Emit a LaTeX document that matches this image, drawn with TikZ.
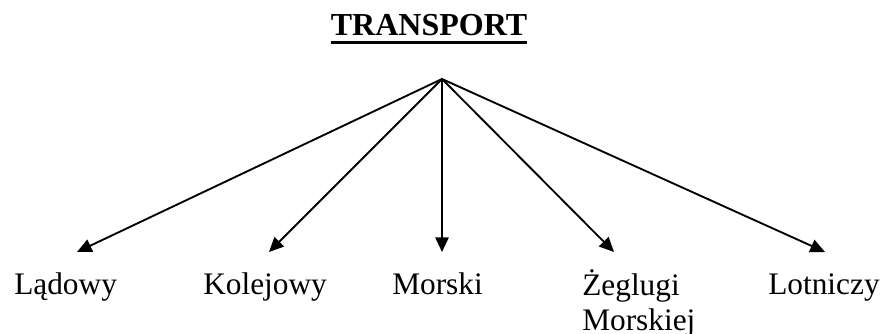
\documentclass[tikz,border=0pt]{standalone}
\usepackage{fontspec}
\setmainfont{Liberation Serif}
\usepackage{tikz}
\usetikzlibrary{arrows.meta}
\tikzstyle{label} = [inner sep=0pt, anchor=base west,
font=\fontsize{23.5pt}{26.25pt}\selectfont, align=left]
\tikzstyle{title} = [inner sep=0pt, anchor=base,
font=\fontsize{24pt}{26.25pt}\selectfont\bfseries]
\tikzstyle{arrow} =
[line width=1.4pt,-{Triangle[length=11pt,width=10pt]}]

\begin{document}
\begin{tikzpicture}[x=0.75pt, y=-0.75pt]
\useasboundingbox (0,0) rectangle (884,334);

\node(title)[title] at (429,36){TRANSPORT};
\draw[line width=2pt]([yshift=-5pt]title.base west) -- ([yshift=-5pt]title.base east);

\coordinate(apex) at (442,79);
\node(ladowy)[label] at (14,295){Lądowy};
\node(kolejowy)[label] at (203,295){Kolejowy};
\node(morski)[label] at (392,295){Morski};
% base of a two-line node is its last line
\node(zegluga)[label] at (582,330){Żeglugi\\Morskiej};
\node(lotniczy)[label] at (768,295){Lotniczy};

\coordinate(tipL) at (77,252);
\coordinate(tipK) at (269,252);
\coordinate(tipM) at (442,252);
\coordinate(tipZ) at (614,252);
\coordinate(tipT) at (825,252);

\draw[arrow](apex) -- (tipL);
\draw[arrow](apex) -- (tipK);
\draw[arrow](apex) -- (tipM);
\draw[arrow](apex) -- (tipZ);
\draw[arrow](apex) -- (tipT);

\end{tikzpicture}
\end{document}
